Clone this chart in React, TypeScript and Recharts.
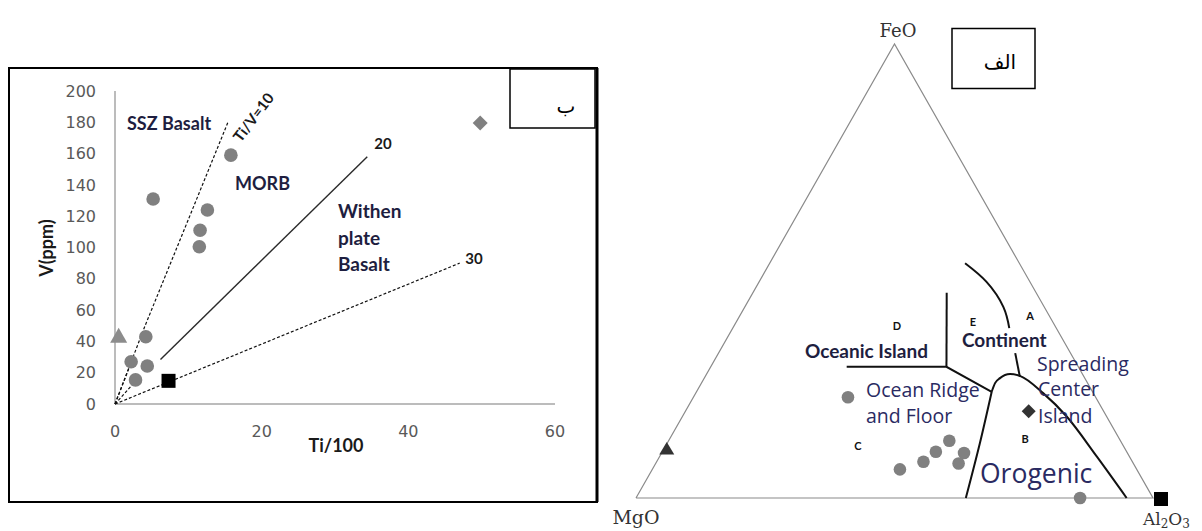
import React from 'react';
import { ScatterChart, Scatter, XAxis, YAxis } from 'recharts';

// ---- Ti-V diagram (left) ----
const xTicks = [0, 20, 40, 60];
const yTicks = [0, 20, 40, 60, 80, 100, 120, 140, 160, 180, 200];

const sampleTi = [5.2, 15.8, 12.6, 11.6, 11.5, 4.2, 2.2, 4.4, 2.8];
const sampleV = [131, 159, 124, 111, 100.5, 43, 27, 24.3, 15.4];
const triTi = [0.5];
const triV = [43];
const sqTi = [7.3];
const sqV = [14.8];
const diaTi = [49.8];
const diaV = [179.5];

const line10Ti = [0, 4.1, 15.4];
const line10V = [0, 50, 180];
const line20Ti = [6.2, 34.4];
const line20V = [28.5, 158];
const line30Ti = [0, 47];
const line30V = [0, 90];
const spokeATi = [0, 2.0];
const spokeAV = [0, 24];
const spokeBTi = [0, 2.6];
const spokeBV = [0, 13.5];

// ---- FeO-MgO-Al2O3 ternary (right), values in % [FeO, MgO, Al2O3] ----
const corners = [
  [0, 100, 0],
  [0, 0, 100],
  [100, 0, 0],
  [0, 100, 0],
];
const circleFeO = [22.2, 12.6, 10.2, 9.9, 8.0, 7.6, 6.3, 0];
const circleMgO = [47.9, 33.1, 36.9, 31.6, 40.4, 33.8, 45.8, 14.1];
const circleAl = [29.9, 54.3, 52.9, 58.5, 51.6, 58.6, 47.9, 85.9];
const triTern = [[10.7, 88.7, 0.6]];
const diaTern = [[19.1, 14.5, 66.4]];
const sqTern = [[0, 0, 100]];

const arcAE = [
  [51.7, 10.5, 37.8],
  [47.6, 8.4, 44.0],
  [42.1, 7.9, 50.0],
  [37.4, 9.1, 53.5],
];
const segContinent = [
  [31.9, 10.7, 57.4],
  [26.7, 12.4, 60.9],
];
const lineDE = [
  [45.2, 17.3, 37.5],
  [28.9, 25.5, 45.6],
];
const lineD = [
  [28.9, 44.8, 26.3],
  [28.9, 25.5, 45.6],
  [23.4, 19.5, 57.1],
];
const orogenicTop = [
  [23.4, 19.5, 57.1],
  [25.3, 17.9, 56.8],
  [26.4, 16.4, 57.2],
  [27.3, 14.0, 58.7],
  [26.9, 12.3, 60.8],
  [23.1, 9.7, 67.2],
  [17.9, 7.7, 74.4],
  [9.1, 6.3, 84.6],
  [0, 5.1, 94.9],
];
const orogenicLeft = [
  [23.4, 19.5, 57.1],
  [12.0, 27.5, 60.5],
  [0, 36.2, 63.8],
];

const H = Math.sqrt(3) / 2;
const tern = ([fe, mg, al]: number[]) => {
  const s = fe + mg + al;
  return { x: ((al + fe / 2) / s) * 100, y: (fe / s) * 100 * H };
};
const zip = (xs: number[], ys: number[]) => xs.map((x, i) => ({ x, y: ys[i] }));

const noDot = () => <g />;
const grayCircle = (r: number) => (p: any) => <circle cx={p.cx} cy={p.cy} r={r} fill="#808080" />;

const navy = '#1e1e40';
const navy2 = '#2a2a62';

export default function App() {
  return (
    <div style={{ position: 'absolute', left: 0, top: 0, width: 1202, height: 531, background: '#fff', overflow: 'hidden' }}>
      <div style={{ position: 'absolute', left: 0, top: 0 }}>
        <ScatterChart width={600} height={531} margin={{ top: 91, right: 45, bottom: 97, left: 0 }}>
          <XAxis
            type="number"
            dataKey="x"
            domain={[0, 60]}
            ticks={xTicks}
            tickLine={false}
            tickMargin={16}
            height={30}
            axisLine={{ stroke: '#a6a6a6', strokeWidth: 1.5 }}
            tick={{ fill: '#595959', fontSize: 16, fontFamily: 'DejaVu Sans' }}
          />
          <YAxis
            type="number"
            dataKey="y"
            domain={[0, 200]}
            ticks={yTicks}
            tickLine={false}
            tickMargin={13}
            width={115}
            axisLine={{ stroke: '#a6a6a6', strokeWidth: 1.5 }}
            tick={{ fill: '#595959', fontSize: 16, fontFamily: 'DejaVu Sans' }}
          />
          <Scatter data={zip(line10Ti, line10V)} line={{ stroke: '#111', strokeWidth: 1.2, strokeDasharray: '3 2' }} shape={noDot} isAnimationActive={false} />
          <Scatter data={zip(line20Ti, line20V)} line={{ stroke: '#2a2a2a', strokeWidth: 1.4 }} shape={noDot} isAnimationActive={false} />
          <Scatter data={zip(line30Ti, line30V)} line={{ stroke: '#111', strokeWidth: 1.2, strokeDasharray: '3 2' }} shape={noDot} isAnimationActive={false} />
          <Scatter data={zip(spokeATi, spokeAV)} line={{ stroke: '#111', strokeWidth: 1.2, strokeDasharray: '3 2' }} shape={noDot} isAnimationActive={false} />
          <Scatter data={zip(spokeBTi, spokeBV)} line={{ stroke: '#111', strokeWidth: 1.2, strokeDasharray: '3 2' }} shape={noDot} isAnimationActive={false} />
          <Scatter data={zip(sampleTi, sampleV)} shape={grayCircle(6.8)} isAnimationActive={false} />
          <Scatter
            data={zip(triTi, triV)}
            shape={(p: any) => <polygon points={`${p.cx},${p.cy - 9} ${p.cx - 8.5},${p.cy + 6} ${p.cx + 8.5},${p.cy + 6}`} fill="#8c8c8c" />}
            isAnimationActive={false}
          />
          <Scatter
            data={zip(sqTi, sqV)}
            shape={(p: any) => <rect x={p.cx - 7} y={p.cy - 7} width={14} height={14} fill="#000" />}
            isAnimationActive={false}
          />
          <Scatter
            data={zip(diaTi, diaV)}
            shape={(p: any) => <polygon points={`${p.cx},${p.cy - 7.5} ${p.cx + 7.5},${p.cy} ${p.cx},${p.cy + 7.5} ${p.cx - 7.5},${p.cy}`} fill="#808080" />}
            isAnimationActive={false}
          />
        </ScatterChart>
      </div>

      <div style={{ position: 'absolute', left: 600, top: 0 }}>
        <ScatterChart width={602} height={531} margin={{ top: 44, right: 49, bottom: 33, left: 36 }}>
          <XAxis type="number" dataKey="x" domain={[0, 100]} hide />
          <YAxis type="number" dataKey="y" domain={[0, 100 * H]} hide />
          <Scatter data={corners.map(tern)} line={{ stroke: '#8a8a8a', strokeWidth: 1.2 }} shape={noDot} isAnimationActive={false} />
          <Scatter data={arcAE.map(tern)} line={{ stroke: '#111', strokeWidth: 2 }} lineJointType="natural" shape={noDot} isAnimationActive={false} />
          <Scatter data={segContinent.map(tern)} line={{ stroke: '#111', strokeWidth: 2 }} shape={noDot} isAnimationActive={false} />
          <Scatter data={lineDE.map(tern)} line={{ stroke: '#111', strokeWidth: 2 }} shape={noDot} isAnimationActive={false} />
          <Scatter data={lineD.map(tern)} line={{ stroke: '#111', strokeWidth: 2 }} shape={noDot} isAnimationActive={false} />
          <Scatter data={orogenicTop.map(tern)} line={{ stroke: '#111', strokeWidth: 2 }} lineJointType="monotoneX" shape={noDot} isAnimationActive={false} />
          <Scatter data={orogenicLeft.map(tern)} line={{ stroke: '#111', strokeWidth: 2 }} lineJointType="natural" shape={noDot} isAnimationActive={false} />
          <Scatter
            data={circleFeO.map((fe, i) => tern([fe, circleMgO[i], circleAl[i]]))}
            shape={grayCircle(6.3)}
            isAnimationActive={false}
          />
          <Scatter
            data={triTern.map(tern)}
            shape={(p: any) => <polygon points={`${p.cx},${p.cy - 7.5} ${p.cx - 7.5},${p.cy + 5} ${p.cx + 7.5},${p.cy + 5}`} fill="#333" />}
            isAnimationActive={false}
          />
          <Scatter
            data={diaTern.map(tern)}
            shape={(p: any) => <polygon points={`${p.cx},${p.cy - 7} ${p.cx + 7},${p.cy} ${p.cx},${p.cy + 7} ${p.cx - 7},${p.cy}`} fill="#333" />}
            isAnimationActive={false}
          />
          <Scatter
            data={sqTern.map(tern)}
            shape={(p: any) => <rect x={p.cx + 1} y={p.cy - 6} width={14} height={14} fill="#000" />}
            isAnimationActive={false}
          />
        </ScatterChart>
      </div>

      <svg width={1202} height={531} style={{ position: 'absolute', left: 0, top: 0, pointerEvents: 'none' }}>
        {/* left frame and label box */}
        <rect x={9} y={68} width={588} height={434} fill="none" stroke="#000" strokeWidth={2} />
        <line x1={597} y1={68} x2={597} y2={502} stroke="#000" strokeWidth={3} />
        <rect x={510} y={69} width={85} height={59} fill="#fff" stroke="#000" strokeWidth={1.5} />
        <text x={566} y={106} fontSize={20} fontFamily="DejaVu Sans" textAnchor="middle" dominantBaseline="central">ب</text>

        <g fontFamily="Lato" fontWeight="bold" fill={navy}>
          <text x={127} y={123} fontSize={18} dominantBaseline="central">SSZ Basalt</text>
          <text x={235} y={183} fontSize={18} dominantBaseline="central">MORB</text>
          <text x={338} y={210} fontSize={19} dominantBaseline="central">Withen</text>
          <text x={338} y={237} fontSize={19} dominantBaseline="central">plate</text>
          <text x={338} y={263} fontSize={19} dominantBaseline="central">Basalt</text>
        </g>
        <g fontFamily="Lato" fontWeight="bold" fill="#1a1a1a">
          <text x={383} y={143} fontSize={15} textAnchor="middle" dominantBaseline="central">20</text>
          <text x={474} y={258} fontSize={15} textAnchor="middle" dominantBaseline="central">30</text>
          <text x={0} y={0} fontSize={15} textAnchor="middle" dominantBaseline="central" transform="translate(253,117) rotate(-53)">Ti/V=10</text>
          <text x={0} y={0} fontSize={18} textAnchor="middle" dominantBaseline="central" transform="translate(46,248) rotate(-90)">V(ppm)</text>
          <text x={336} y={445} fontSize={18} textAnchor="middle" dominantBaseline="central">Ti/100</text>
        </g>

        {/* right: ternary apex labels and box */}
        <g fontFamily="DejaVu Serif" fill="#333">
          <text x={898} y={30} fontSize={18} textAnchor="middle" dominantBaseline="central">FeO</text>
          <text x={636} y={517} fontSize={19} textAnchor="middle" dominantBaseline="central">MgO</text>
          <text x={1143} y={525} fontSize={17}>
            Al<tspan fontSize={12} dy={3}>2</tspan><tspan dy={-3}>O</tspan><tspan fontSize={12} dy={3}>3</tspan>
          </text>
        </g>
        <rect x={952} y={28.5} width={83} height={60} fill="#fff" stroke="#000" strokeWidth={1.5} />
        <text x={1000} y={62} fontSize={20} fontFamily="DejaVu Sans" textAnchor="middle" dominantBaseline="central">الف</text>

        <g fontFamily="Lato" fontWeight="bold" fill="#111" fontSize={11} textAnchor="middle" dominantBaseline="central">
          <text x={897} y={325}>D</text>
          <text x={973} y={321}>E</text>
          <text x={1030} y={315}>A</text>
          <text x={1025} y={438}>B</text>
          <text x={858} y={445}>C</text>
        </g>
        <g fontFamily="Lato" fontWeight="bold" fill={navy} fontSize={19} dominantBaseline="central">
          <text x={805} y={350}>Oceanic Island</text>
          <text x={962} y={339}>Continent</text>
        </g>
        <g fontFamily="Open Sans" fill={navy2} fontSize={19.5} dominantBaseline="central">
          <text x={1037} y={363}>Spreading</text>
          <text x={1038} y={388}>Center</text>
          <text x={1038} y={415}>Island</text>
          <text x={866} y={389}>Ocean Ridge</text>
          <text x={866} y={415}>and Floor</text>
          <text x={980} y={473} fontSize={26.5}>Orogenic</text>
        </g>
      </svg>
    </div>
  );
}
